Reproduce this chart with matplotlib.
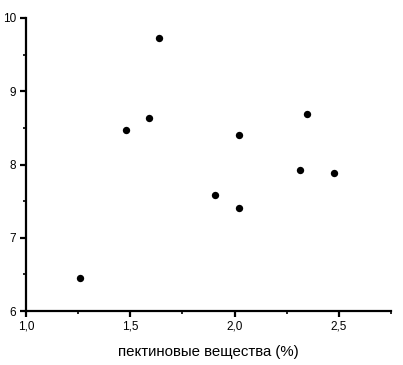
import matplotlib
matplotlib.use("Agg")
import matplotlib.pyplot as plt
from matplotlib.ticker import MultipleLocator, FuncFormatter

plt.rcParams['font.family'] = ['Liberation Sans', 'DejaVu Sans']

pectin = [1.26, 1.48, 1.59, 1.636, 1.907, 2.019, 2.019, 2.3125, 2.3475, 2.475]
values = [6.45, 8.47, 8.64, 9.73, 7.58, 7.40, 8.40, 7.92, 8.69, 7.88]
xlabel = 'пектиновые вещества (%)'

fig = plt.figure(figsize=(4.03, 3.65), dpi=100)
ax = fig.add_axes([26/403, 1-311/365, (391-26)/403, (311-18)/365])
ax.scatter(pectin, values, s=28, color='black', zorder=3, linewidths=0)

ax.set_xlim(1.0, 2.75)
ax.set_ylim(6, 10)
ax.spines['top'].set_visible(False)
ax.spines['right'].set_visible(False)
for s in ('left', 'bottom'):
    ax.spines[s].set_linewidth(1.6)

ax.xaxis.set_major_locator(MultipleLocator(0.5))
ax.xaxis.set_minor_locator(MultipleLocator(0.25))
ax.yaxis.set_major_locator(MultipleLocator(1))
ax.yaxis.set_minor_locator(MultipleLocator(0.5))
ax.xaxis.set_major_formatter(FuncFormatter(lambda v, p: f"{v:.1f}".replace('.', ',')))
ax.yaxis.set_major_formatter(FuncFormatter(lambda v, p: f"{int(round(v))}"))
ax.tick_params(which='major', direction='out', length=4, width=1.6, labelsize=8.5, pad=3)
ax.tick_params(which='minor', direction='out', length=2, width=1.2)

ax.set_xlabel(xlabel, fontsize=10.8, labelpad=9)

fig.savefig('out.png', dpi=100)
